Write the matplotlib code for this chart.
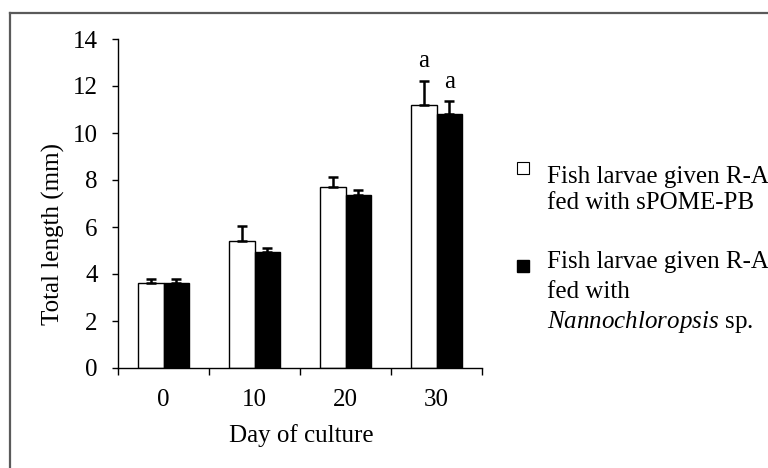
import numpy as np
import matplotlib
matplotlib.use("Agg")
import matplotlib.pyplot as plt
from matplotlib.lines import Line2D

plt.rcParams['font.family'] = ['Liberation Serif', 'DejaVu Serif']
plt.rcParams['mathtext.fontset'] = 'custom'
plt.rcParams['mathtext.rm'] = 'Liberation Serif'
plt.rcParams['mathtext.it'] = 'Liberation Serif:italic'

# data
days = ['0', '10', '20', '30']
spome = [3.62, 5.42, 7.69, 11.18]
spome_err = [0.17, 0.63, 0.44, 1.02]
nanno = [3.62, 4.95, 7.35, 10.80]
nanno_err = [0.17, 0.14, 0.22, 0.55]
letters_spome = ['', '', '', 'a']
letters_nanno = ['', '', '', 'a']

W, H = 768, 468
fig = plt.figure(figsize=(W / 100, H / 100), dpi=100)
ax = fig.add_axes([118 / W, 1 - 368 / H, (482 - 118) / W, (368 - 39) / H])

fs = 18
x = np.arange(len(days))
w = 0.28
ax.bar(x - w / 2, spome, w, color='white', edgecolor='black', linewidth=1.0, zorder=2)
ax.bar(x + w / 2, nanno, w, color='black', edgecolor='black', linewidth=1.0, zorder=2)
ax.errorbar(x - w / 2, spome, yerr=[np.zeros(4), spome_err], fmt='none', ecolor='black',
            elinewidth=1.8, capsize=3.5, capthick=1.8, zorder=3)
ax.errorbar(x + w / 2, nanno, yerr=[np.zeros(4), nanno_err], fmt='none', ecolor='black',
            elinewidth=1.8, capsize=3.5, capthick=1.8, zorder=3)

for i in range(len(days)):
    if letters_spome[i]:
        ax.text(x[i] - w / 2, spome[i] + spome_err[i] + 0.85, letters_spome[i],
                ha='center', va='center', fontsize=fs)
    if letters_nanno[i]:
        ax.text(x[i] + w / 2, nanno[i] + nanno_err[i] + 0.8, letters_nanno[i],
                ha='center', va='center', fontsize=fs)

ax.set_xlim(-0.5, len(days) - 0.5)
ax.set_ylim(0, 14)
ax.set_yticks(np.arange(0, 15, 2))
ax.set_xticks(np.arange(-0.5, len(days), 1.0))
ax.set_xticklabels([])
ax.set_xticks(x, minor=True)
ax.set_xticklabels(days, minor=True)
ax.tick_params(axis='x', which='major', direction='out', length=5, width=1)
ax.tick_params(axis='x', which='minor', length=0, pad=15, labelsize=fs)
ax.tick_params(axis='y', direction='out', length=4.5, width=1, pad=10, labelsize=fs)

for s in ['top', 'right']:
    ax.spines[s].set_visible(False)
for s in ['left', 'bottom']:
    ax.spines[s].set_linewidth(1.0)

ax.set_ylabel('Total length (mm)', fontsize=fs)
ax.yaxis.set_label_coords(53 / W, 0.5, transform=fig.transFigure)
ax.yaxis.label.set_va('center')
fig.text(301 / W, 1 - 436 / H, 'Day of culture', ha='center', va='center', fontsize=fs)

# legend drawn by hand
def px(xp, yp):
    return xp / W, 1 - yp / H

fig.add_artist(Line2D([523 / W], [1 - 168 / H], marker='s', markersize=8,
                      markerfacecolor='white', markeredgecolor='black', markeredgewidth=0.8))
fig.add_artist(Line2D([523 / W], [1 - 266 / H], marker='s', markersize=9,
                      markerfacecolor='black', markeredgecolor='black'))
fig.text(*px(547, 177), 'Fish larvae given R-A', va='center', fontsize=fs)
fig.text(*px(547, 203), 'fed with sPOME-PB', va='center', fontsize=fs)
fig.text(*px(547, 262), 'Fish larvae given R-A', va='center', fontsize=fs)
fig.text(*px(547, 292), 'fed with', va='center', fontsize=fs)
fig.text(*px(547, 322), r'$\mathit{Nannochloropsis}$ sp.', va='center', fontsize=fs)

# frame around the figure, cut off at right and bottom
fig.add_artist(Line2D([10 / W, 10 / W], [0, 1 - 13 / H], color='#5a5a5a', linewidth=1.6))
fig.add_artist(Line2D([10 / W, 1], [1 - 13 / H, 1 - 13 / H], color='#5a5a5a', linewidth=1.6))

plt.savefig('out.png', dpi=100)
